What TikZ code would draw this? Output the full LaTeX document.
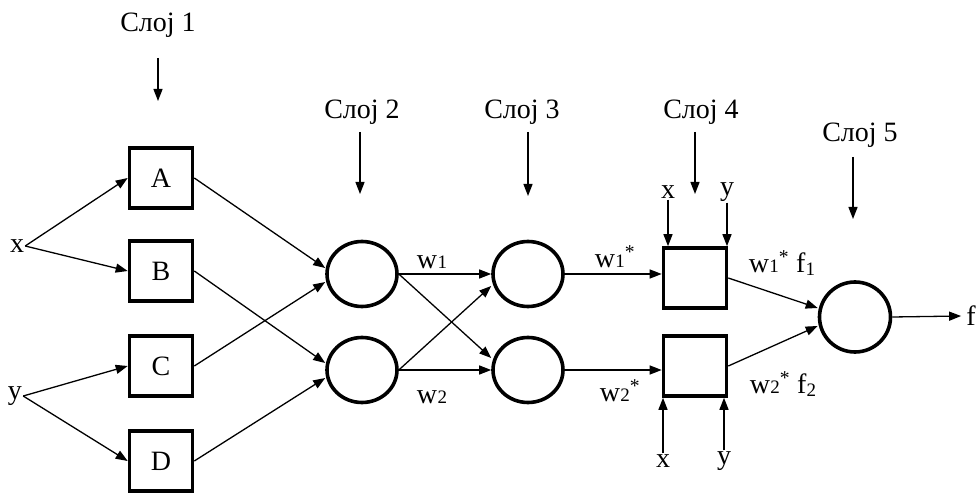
\documentclass[tikz,border=0pt]{standalone}
\usepackage{fontspec}
\setmainfont{Liberation Serif}
\usetikzlibrary{arrows.meta,shapes.geometric}
\newcommand\wsub[1]{w\kern0.3pt{\fontsize{19}{19}\selectfont #1}}
\newcommand\fsub[1]{f\kern0.3pt\raisebox{-3pt}{\fontsize{19}{19}\selectfont #1}}
\begin{document}
\begin{tikzpicture}[x=1pt,y=-1pt,
  every node/.style={font=\fontsize{28}{32}\selectfont, inner sep=1pt},
  boxnode/.style={draw, line width=3.6pt, minimum width=63pt, minimum height=60pt, inner sep=0pt},
  neuron/.style={draw, ellipse, line width=3.6pt, minimum width=70pt, minimum height=65pt, inner sep=0pt},
  conn/.style={line width=1.3pt, -{Triangle[length=12pt,width=9pt]}},
  lbl/.style={inner sep=1pt}]
\useasboundingbox (0,0) rectangle (977,494);
% layer captions
\node[lbl] (s1) at (158,25) {Слој 1};
\node[lbl] (s2) at (362,112) {Слој 2};
\node[lbl] (s3) at (522,112) {Слој 3};
\node[lbl] (s4) at (701,112) {Слој 4};
\node[lbl] (s5) at (860,135) {Слој 5};
\coordinate (a1s) at (158,58);  \coordinate (a1e) at (158,101);
\coordinate (a2s) at (360,132); \coordinate (a2e) at (360,194);
\coordinate (a3s) at (528,132); \coordinate (a3e) at (528,196);
\coordinate (a4s) at (695,132); \coordinate (a4e) at (695,194);
\coordinate (a5s) at (853,157); \coordinate (a5e) at (853,219);
\foreach \i in {1,...,5} \draw[conn] (a\i s) -- (a\i e);
% inputs
\node[lbl] (x) at (17,246) {x};
\node[lbl] (y) at (15,396) {y};
% layer 1
\node[boxnode] (A) at (161,178) {A};
\node[boxnode] (B) at (161,271) {B};
\node[boxnode] (C) at (161,366) {C};
\node[boxnode] (D) at (161,461) {D};
% layer 2
\node[neuron] (c1) at (362,274) {};
\node[neuron] (c2) at (362,370) {};
% layer 3
\node[neuron] (c3) at (528,274) {};
\node[neuron] (c4) at (528,370) {};
% layer 4
\node[boxnode] (b1) at (695,278) {};
\node[boxnode] (b2) at (695,366) {};
% layer 5
\node[neuron, minimum width=71pt, minimum height=70pt] (c5) at (855,317) {};
\node[lbl] (f) at (971,316) {f};
% layer 4 side inputs
\node[lbl] (x4a) at (668,192) {x};
\node[lbl] (y4a) at (727,192) {y};
\node[lbl] (x4b) at (663,461) {x};
\node[lbl] (y4b) at (724,461) {y};
% connectors
\draw[conn] (x.east) -- (A.west);
\draw[conn] (x.east) -- (B.west);
\draw[conn] (y.east) -- (C.west);
\draw[conn] (y.east) -- (D.west);
\draw[conn] (A.east) -- ([yshift=6pt]c1.west);
\draw[conn] (C.east) -- ([yshift=-8pt]c1.west);
\draw[conn] (B.east) -- ([yshift=7pt]c2.west);
\draw[conn] (D.east) -- ([yshift=-8pt]c2.west);
\draw[conn] (c1.east) -- (c3.west);
\draw[conn] (c2.east) -- (c4.west);
\draw[conn] (c1.east) -- ([yshift=12pt]c4.west);
\draw[conn] (c2.east) -- ([yshift=-12pt]c3.west);
\draw[conn] (c3.east) -- (c3.east -| b1.west);
\draw[conn] (c4.east) -- (c4.east -| b2.west);
\draw[conn] (b1.east) -- ([yshift=9pt]c5.west);
\draw[conn] (b2.east) -- ([yshift=-9pt]c5.west);
\draw[conn] (c5.east) -- ([xshift=-4pt]f.west);
\draw[conn] (x4a.south) -- (x4a.south |- b1.north);
\draw[conn] (y4a.south) -- (y4a.south |- b1.north);
\draw[conn] (x4b.north) -- (x4b.north |- b2.south);
\draw[conn] (y4b.north) -- (y4b.north |- b2.south);
% weight labels
\node[lbl] (lw1) at (432,262) {\wsub{1}};
\node[lbl] (lw2) at (432,397) {\wsub{2}};
\node[lbl] (lw1s) at (615,257) {\wsub{1}\textsuperscript{*}};
\node[lbl] (lw2s) at (620,391) {\wsub{2}\textsuperscript{*}};
\node[lbl] (lf1) at (782,263) {\wsub{1}\textsuperscript{*} \fsub{1}};
\node[lbl] (lf2) at (783,384) {\wsub{2}\textsuperscript{*} \fsub{2}};
\end{tikzpicture}
\end{document}
